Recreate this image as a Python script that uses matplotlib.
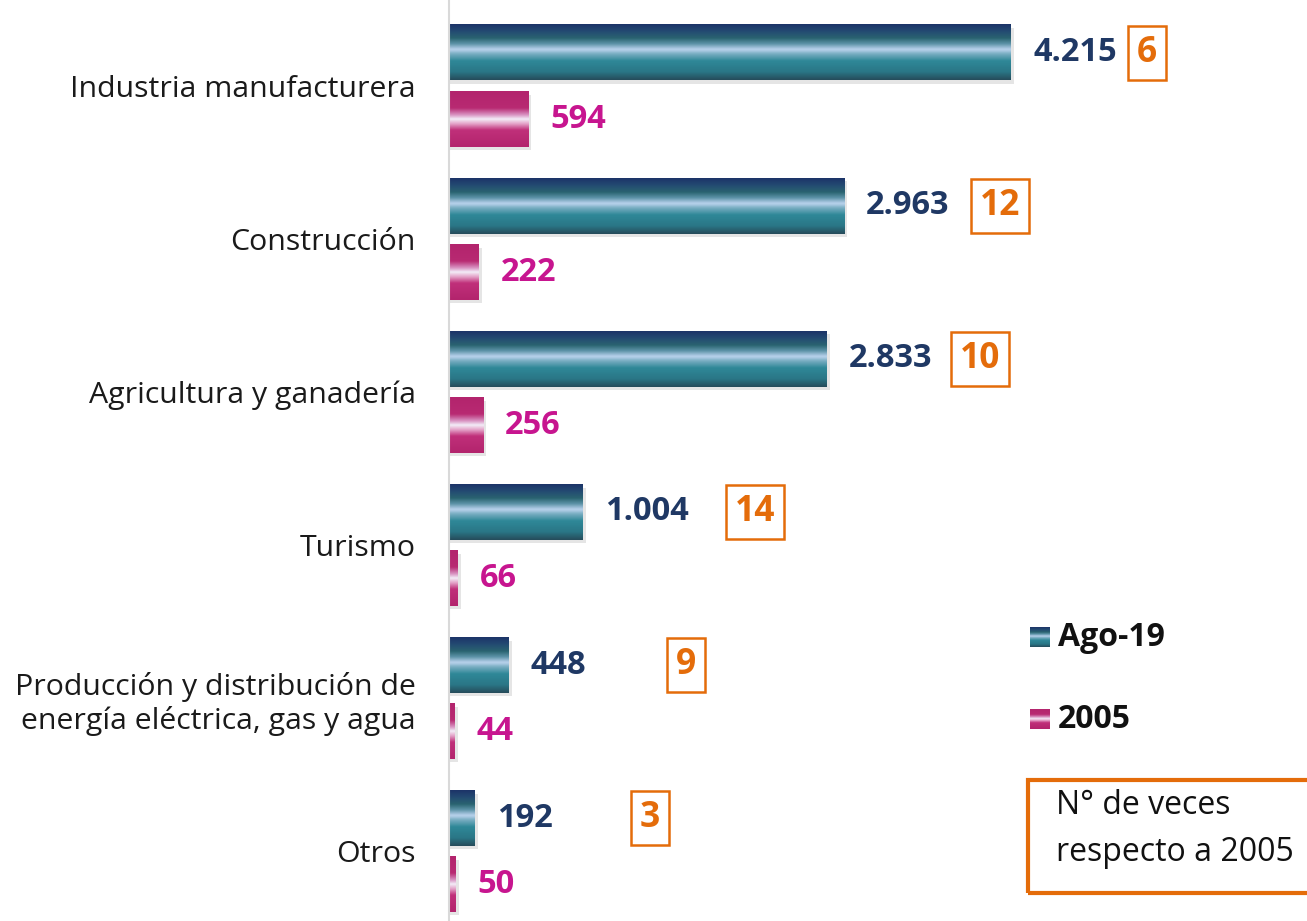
import numpy as np
import matplotlib.pyplot as plt
from matplotlib.colors import LinearSegmentedColormap

plt.rcParams['font.family'] = ['Open Sans', 'DejaVu Sans']

# datos
sectores = ['Industria manufacturera', 'Construcción', 'Agricultura y ganadería',
            'Turismo', 'Producción y distribución de\nenergía eléctrica, gas y agua', 'Otros']
ago19 = [4215, 2963, 2833, 1004, 448, 192]
anio2005 = [594, 222, 256, 66, 44, 50]
veces = [6, 12, 10, 14, 9, 3]
veces_x = [5235, 4132, 3982, 2295, 1778, 1508]  # donde va cada cuadrito

NAVY = '#1f3864'
PINK = '#c7158f'
ORANGE = '#e46c0a'

azul = LinearSegmentedColormap.from_list('azul', [
    (0.0, '#1c3468'), (0.12, '#234a72'), (0.25, '#2a6470'), (0.35, '#5d93a8'),
    (0.45, '#b9d2ec'), (0.55, '#6fa8bc'), (0.66, '#2f8898'), (0.86, '#2a7686'),
    (1.0, '#264d5c')])
rosa = LinearSegmentedColormap.from_list('rosa', [
    (0.0, '#b3246d'), (0.3, '#b82a72'), (0.42, '#d890c0'), (0.5, '#f4f0fa'),
    (0.58, '#e6a8cc'), (0.7, '#c0307a'), (1.0, '#b3246d')])


def grad(cmap):
    return cmap(np.linspace(0, 1, 64))[:, None, :3]


fig = plt.figure(figsize=(13.07, 9.21), dpi=100)
ax = fig.add_axes([449 / 1307, 0, 858 / 1307, 1])

h = 0.36
off = 0.216
pos = np.arange(len(sectores))
px = 858 / 6435.0  # pixeles por unidad en x
gap = 22 / px

for i in pos:
    for val, dy, cm, col in [(ago19[i], -off, azul, NAVY), (anio2005[i], off, rosa, PINK)]:
        y = i + dy
        # sombrita
        ax.add_patch(plt.Rectangle((0, y - h / 2 + 0.02), val + 3 / px, h, color='#aaaaaa',
                                   alpha=0.3, lw=0, zorder=1))
        ax.imshow(grad(cm), extent=(0, val, y + h / 2, y - h / 2), aspect='auto',
                  interpolation='bilinear', zorder=2)
        txt = f'{val:,}'.replace(',', '.')
        ax.text(val + gap, y, txt, color=col, fontsize=23.5, fontweight='bold',
                va='center', ha='left', zorder=3)
    ax.text(veces_x[i], i - off, str(veces[i]), color=ORANGE, fontsize=25.5,
            fontweight='bold', ha='center', va='center',
            bbox=dict(boxstyle='square,pad=0.25', fc='white', ec=ORANGE, lw=1.8))

ax.set_xlim(0, 6435)
ax.set_ylim(5.457, -0.562)
ax.set_yticks(pos)
ax.set_yticklabels(sectores, fontsize=21.8, color='#1a1a1a')
ax.tick_params(axis='y', length=0, pad=24)
ax.set_xticks([])
for s in ['top', 'right', 'bottom']:
    ax.spines[s].set_visible(False)
ax.spines['left'].set_color('#d9d9d9')
ax.spines['left'].set_linewidth(1.5)

# leyenda
for yy, cm, lab in [(637, azul, 'Ago-19'), (719, rosa, '2005')]:
    lax = fig.add_axes([1030 / 1307, 1 - (yy + 10) / 921, 20 / 1307, 20 / 921])
    lax.imshow(grad(cm), aspect='auto', interpolation='bilinear')
    lax.axis('off')
    fig.text(1058 / 1307, 1 - yy / 921, lab, fontsize=23, fontweight='bold',
             color='#111111', va='center', ha='left')

fig.patches.append(plt.Rectangle((1028 / 1307, 1 - 893 / 921), 300 / 1307, 113 / 921,
                                 transform=fig.transFigure, fill=False, ec=ORANGE, lw=3))
fig.text(1056 / 1307, 1 - 805 / 921, 'N° de veces', fontsize=23, color='#111111', va='center')
fig.text(1056 / 1307, 1 - 852 / 921, 'respecto a 2005', fontsize=23, color='#111111', va='center')

fig.savefig('out.png', dpi=100, facecolor='white')
